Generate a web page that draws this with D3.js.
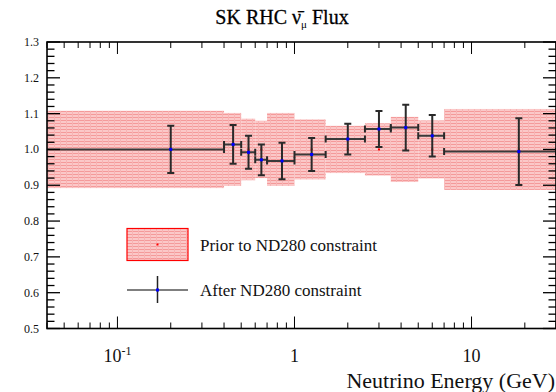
<!DOCTYPE html>
<html><head><meta charset="utf-8">
<script src="https://cdn.jsdelivr.net/npm/d3@7"></script>
<style>
html,body{margin:0;padding:0;background:#fff;overflow:hidden;}
text{font-family:"Liberation Serif","Times New Roman",serif;fill:#111;}
</style></head>
<body><svg id="chart" width="556" height="392"></svg>
<script>
// ---- data ----
const binEdges   = [0, 0.4, 0.5, 0.6, 0.7, 1.0, 1.5, 2.5, 3.5, 5.0, 7.0, 30];
const binCenters = [0.2, 0.45, 0.55, 0.65, 0.85, 1.25, 2.0, 3.0, 4.25, 6.0, 18.5];
const priorValues = [1, 1, 1, 1, 1, 1, 1, 1, 1, 1, 1];
const priorErrors = [0.108, 0.102, 0.086, 0.080, 0.102, 0.084, 0.066, 0.073, 0.091, 0.081, 0.113];
const postValues  = [1.000, 1.014, 0.992, 0.971, 0.968, 0.986, 1.029, 1.057, 1.061, 1.038, 0.994];
const postErrors  = [0.066, 0.054, 0.046, 0.043, 0.051, 0.046, 0.043, 0.050, 0.064, 0.058, 0.093];
const xMajorTicks = [0.1, 1, 10];
const xTickLabels = [["10","-1"], ["1",""], ["10",""]];
const yTicks = [0.5, 0.6, 0.7, 0.8, 0.9, 1.0, 1.1, 1.2, 1.3];
const yTickLabels = ["0.5","0.6","0.7","0.8","0.9","1.0","1.1","1.2","1.3"];
const xDomain = [0.04, 30];
const yDomain = [0.5, 1.3];
const legendLabels = ["Prior to ND280 constraint", "After ND280 constraint"];

// ---- layout ----
const L = 47, R = 556, T = 42, B = 328.5;
const svg = d3.select("#chart");
const x = d3.scaleLog().domain(xDomain).range([L, R]);
const y = d3.scaleLinear().domain(yDomain).range([B, T]);

const defs = svg.append("defs");
const pat = defs.append("pattern").attr("id","hatch").attr("patternUnits","userSpaceOnUse")
  .attr("width",6).attr("height",3);
pat.append("rect").attr("width",6).attr("height",3).attr("fill","#fbc8c8");
pat.append("rect").attr("width",6).attr("height",1).attr("fill","#f49a9a");
pat.append("rect").attr("width",1).attr("height",3).attr("fill","#f7b4b4");
defs.append("clipPath").attr("id","plotclip").append("rect")
  .attr("x",L).attr("y",T).attr("width",R-L).attr("height",B-T);

const plot = svg.append("g").attr("clip-path","url(#plotclip)");
const bins = binCenters.map((c,i)=>({lo:binEdges[i], hi:binEdges[i+1], c,
  pv:priorValues[i], pe:priorErrors[i], v:postValues[i], e:postErrors[i]}));
const xs = v => v<=0 ? L-20 : x(v);

// prior band
plot.selectAll("rect.band").data(bins).join("rect").attr("class","band")
  .attr("x",d=>xs(d.lo)).attr("width",d=>xs(d.hi)-xs(d.lo))
  .attr("y",d=>y(d.pv+d.pe)).attr("height",d=>y(d.pv-d.pe)-y(d.pv+d.pe))
  .attr("fill","url(#hatch)");
plot.selectAll("rect.pdot").data(bins).join("rect").attr("class","pdot")
  .attr("x",d=>x(d.c)-1).attr("y",d=>y(d.pv)-1).attr("width",2).attr("height",2).attr("fill","#f00");

// after points
const col = "#2a2a2a";
const g = plot.selectAll("g.pt").data(bins).join("g").attr("class","pt");
g.append("line").attr("x1",d=>xs(d.lo)).attr("x2",d=>xs(d.hi))
  .attr("y1",d=>y(d.v)).attr("y2",d=>y(d.v)).attr("stroke","#3a3a3a").attr("stroke-width",2);
g.append("line").attr("x1",d=>x(d.c)).attr("x2",d=>x(d.c))
  .attr("y1",d=>y(d.v+d.e)).attr("y2",d=>y(d.v-d.e)).attr("stroke",col).attr("stroke-width",2);
// caps
[d=>d.v+d.e, d=>d.v-d.e].forEach(f=>{
  g.append("line").attr("x1",d=>x(d.c)-3.5).attr("x2",d=>x(d.c)+3.5)
   .attr("y1",d=>y(f(d))).attr("y2",d=>y(f(d))).attr("stroke",col).attr("stroke-width",2);
});
[d=>xs(d.lo), d=>xs(d.hi)].forEach(f=>{
  g.append("line").attr("x1",d=>f(d)).attr("x2",d=>f(d))
   .attr("y1",d=>y(d.v)-3.5).attr("y2",d=>y(d.v)+3.5).attr("stroke",col).attr("stroke-width",2);
});
g.append("rect").attr("x",d=>x(d.c)-1.5).attr("y",d=>y(d.v)-1.5).attr("width",3).attr("height",3).attr("fill","#00f");

// ---- axes (ROOT-style ticks inside) ----
const ax = svg.append("g").attr("stroke","#000");
const xAll = x.ticks().filter(t=>t>=xDomain[0] && t<=xDomain[1]);
xAll.forEach(t=>{
  const major = xMajorTicks.includes(t);
  const len = major ? 12 : 6;
  ax.append("line").attr("x1",x(t)).attr("x2",x(t)).attr("y1",B).attr("y2",B-len).attr("stroke-width",1);
  ax.append("line").attr("x1",x(t)).attr("x2",x(t)).attr("y1",T).attr("y2",T+len).attr("stroke-width",1);
});
const yMinor = d3.range(25,66).map(i=>i/50);
yMinor.forEach(t=>{
  const major = Math.abs(t*10-Math.round(t*10))<1e-6;
  const len = major ? 13 : 7.5;
  ax.append("line").attr("x1",L).attr("x2",L+len).attr("y1",y(t)).attr("y2",y(t)).attr("stroke-width",1.3);
  ax.append("line").attr("x1",R).attr("x2",R-len).attr("y1",y(t)).attr("y2",y(t)).attr("stroke-width",1.3);
});
ax.append("rect").attr("x",L).attr("y",T).attr("width",R-L).attr("height",B-T)
  .attr("fill","none").attr("stroke-width",1.6);

// y tick labels
svg.selectAll("text.yl").data(yTicks).join("text").attr("class","yl")
  .attr("x",39).attr("y",d=>y(d)+4).attr("text-anchor","end").attr("font-size",12)
  .text((d,i)=>yTickLabels[i]);
// x tick labels
xMajorTicks.forEach((t,i)=>{
  const tx = svg.append("text").attr("x",x(t)).attr("y",362).attr("text-anchor","middle").attr("font-size",18);
  tx.append("tspan").text(xTickLabels[i][0]);
  if (xTickLabels[i][1]) tx.append("tspan").attr("font-size",12).attr("dy",-7).text(xTickLabels[i][1]);
});

// axis title
svg.append("text").attr("x",555).attr("y",388).attr("text-anchor","end").attr("font-size",22)
  .text("Neutrino Energy (GeV)");

// title
const tt = svg.append("text").attr("x",282).attr("y",24).attr("text-anchor","middle").attr("font-size",20)
  .style("fill","#000").attr("stroke","#000").attr("stroke-width",0.3);
tt.append("tspan").text("SK RHC \u03BD\u0304");
tt.append("tspan").attr("font-size",11).attr("stroke-width",0).attr("dy",4).text("\u03BC");
tt.append("tspan").attr("dy",-4).text(" Flux");

// legend
const lg = svg.append("g");
lg.append("rect").attr("x",127).attr("y",228.5).attr("width",61).attr("height",32)
  .attr("fill","url(#hatch)").attr("stroke","#f00").attr("stroke-width",1.2);
lg.append("rect").attr("x",156.5).attr("y",243.5).attr("width",2).attr("height",2).attr("fill","#f00");
lg.append("text").attr("x",200).attr("y",251).attr("font-size",17).text(legendLabels[0]);
lg.append("line").attr("x1",127).attr("x2",188).attr("y1",290).attr("y2",290).attr("stroke","#555").attr("stroke-width",1.5);
lg.append("line").attr("x1",157.5).attr("x2",157.5).attr("y1",276).attr("y2",303).attr("stroke","#222").attr("stroke-width",1.5);
lg.append("rect").attr("x",156).attr("y",288.5).attr("width",3).attr("height",3).attr("fill","#00f");
lg.append("text").attr("x",200).attr("y",296).attr("font-size",17).text(legendLabels[1]);
</script></body></html>
